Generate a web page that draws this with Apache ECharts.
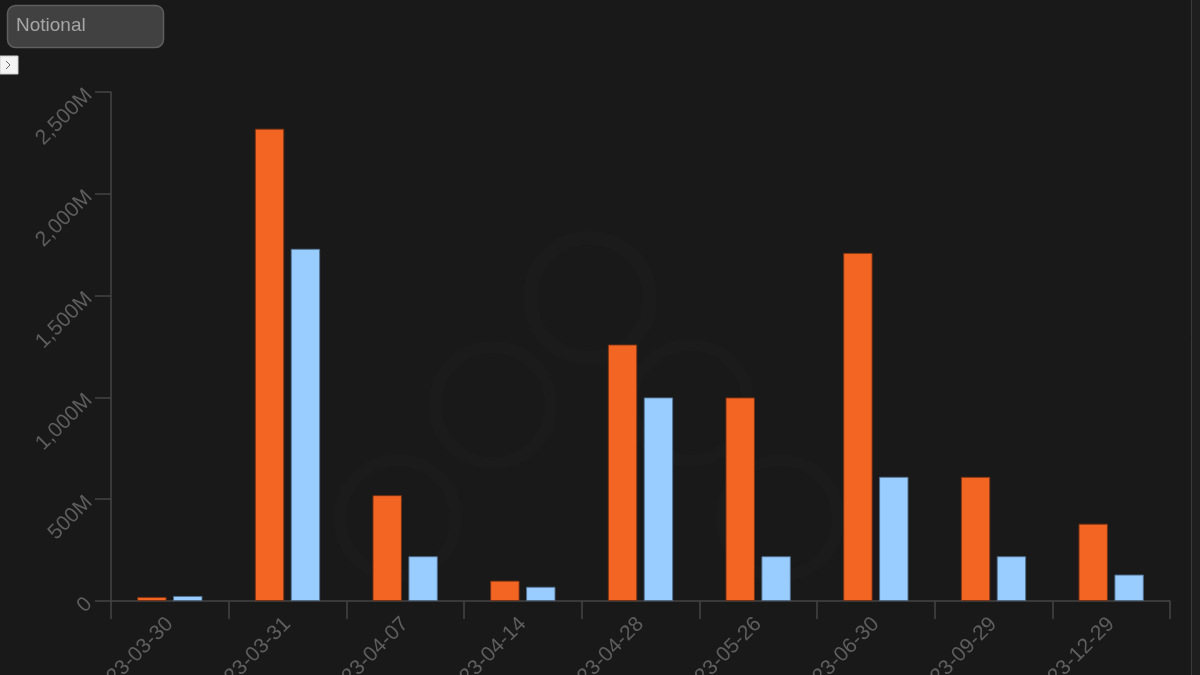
<!DOCTYPE html>
<html>
<head>
<meta charset="utf-8">
<script src="https://cdn.jsdelivr.net/npm/echarts@6/dist/echarts.min.js"></script>
<style>
  html, body { margin: 0; padding: 0; background: #191919; }
  #chart { width: 1200px; height: 675px; }
</style>
</head>
<body>
<div id="chart"></div>
<script>
// categories (dates)
const dates = ['2023-03-30', '2023-03-31', '2023-04-07', '2023-04-14', '2023-04-28',
  '2023-05-26', '2023-06-30', '2023-09-29', '2023-12-29'];
// notional, in millions
const orangeValues = [20, 2320, 520, 100, 1260, 1000, 1710, 610, 380];
const blueValues = [25, 1730, 220, 70, 1000, 220, 610, 220, 130];
const yTicks = {min: 0, max: 2500, interval: 500};

const chart = echarts.init(document.getElementById('chart'));

const axisColor = '#444';
const labelColor = '#5e5e5e';
const labelFont = 'Liberation Sans, Arial, sans-serif';

const option = {
  backgroundColor: '#191919',
  animation: false,
  grid: {
    left: 111,
    right: 30,
    top: 92,
    bottom: 74,
    containLabel: false,
    outerBoundsMode: 'none'
  },
  xAxis: {
    type: 'category',
    data: dates,
    axisLine: {lineStyle: {color: axisColor, width: 1.5}},
    axisTick: {show: true, length: 18, lineStyle: {color: axisColor, width: 1.5}},
    axisLabel: {
      rotate: 45,
      margin: 20,
      color: labelColor,
      fontSize: 21,
      fontFamily: labelFont,
      hideOverlap: false
    },
    splitLine: {show: false}
  },
  yAxis: {
    type: 'value',
    min: yTicks.min,
    max: yTicks.max,
    interval: yTicks.interval,
    axisLine: {show: true, lineStyle: {color: axisColor, width: 1.5}},
    axisTick: {show: true, length: 16, lineStyle: {color: axisColor, width: 1.5}},
    axisLabel: {
      rotate: 45,
      margin: 22,
      color: labelColor,
      fontSize: 21,
      fontFamily: labelFont,
      formatter: function (v) {
        return v === 0 ? '0' : v.toLocaleString('en-US') + 'M';
      }
    },
    splitLine: {show: false}
  },
  series: [
    {
      type: 'bar',
      data: orangeValues,
      barWidth: '25%',
      barGap: '22%',
      itemStyle: {color: '#f26522', borderColor: 'rgba(120,50,20,0.9)', borderWidth: 1}
    },
    {
      type: 'bar',
      data: blueValues,
      barWidth: '25%',
      itemStyle: {color: '#99ccff', borderColor: 'rgba(80,110,140,0.9)', borderWidth: 1}
    }
  ],
  graphic: [
    // faint watermark
    {type: 'circle', z: -1, shape: {cx: 590, cy: 298, r: 60}, style: {fill: null, stroke: 'rgba(255,255,255,0.012)', lineWidth: 14}},
    {type: 'circle', z: -1, shape: {cx: 493, cy: 405, r: 58}, style: {fill: null, stroke: 'rgba(255,255,255,0.01)', lineWidth: 12}},
    {type: 'circle', z: -1, shape: {cx: 690, cy: 403, r: 58}, style: {fill: null, stroke: 'rgba(255,255,255,0.01)', lineWidth: 12}},
    {type: 'circle', z: -1, shape: {cx: 398, cy: 518, r: 58}, style: {fill: null, stroke: 'rgba(255,255,255,0.01)', lineWidth: 12}},
    {type: 'circle', z: -1, shape: {cx: 780, cy: 518, r: 58}, style: {fill: null, stroke: 'rgba(255,255,255,0.01)', lineWidth: 12}},
    // right edge strip
    {type: 'rect', shape: {x: 1191, y: 0, width: 9, height: 675}, style: {fill: '#1e1e1e'}},
    {type: 'line', shape: {x1: 1191.5, y1: 0, x2: 1191.5, y2: 675}, style: {stroke: '#3a3a3a', lineWidth: 1}},
    // select box
    {type: 'rect', shape: {x: 7.5, y: 5.5, width: 156, height: 42, r: 8}, style: {fill: '#414141', stroke: '#5f5f5f', lineWidth: 1.5}},
    {type: 'text', x: 16, y: 26, style: {text: 'Notional', fill: '#a6a6a6', font: '19px Liberation Sans, Arial, sans-serif', verticalAlign: 'middle'}},
    // small expand button
    {type: 'rect', shape: {x: 0, y: 56, width: 18, height: 18}, style: {fill: '#f4f4f4', stroke: '#cccccc', lineWidth: 1}},
    {type: 'polyline', shape: {points: [[6, 61], [10, 65], [6, 69]]}, style: {stroke: '#666', lineWidth: 1, fill: null}}
  ]
};

chart.setOption(option);
</script>
</body>
</html>
